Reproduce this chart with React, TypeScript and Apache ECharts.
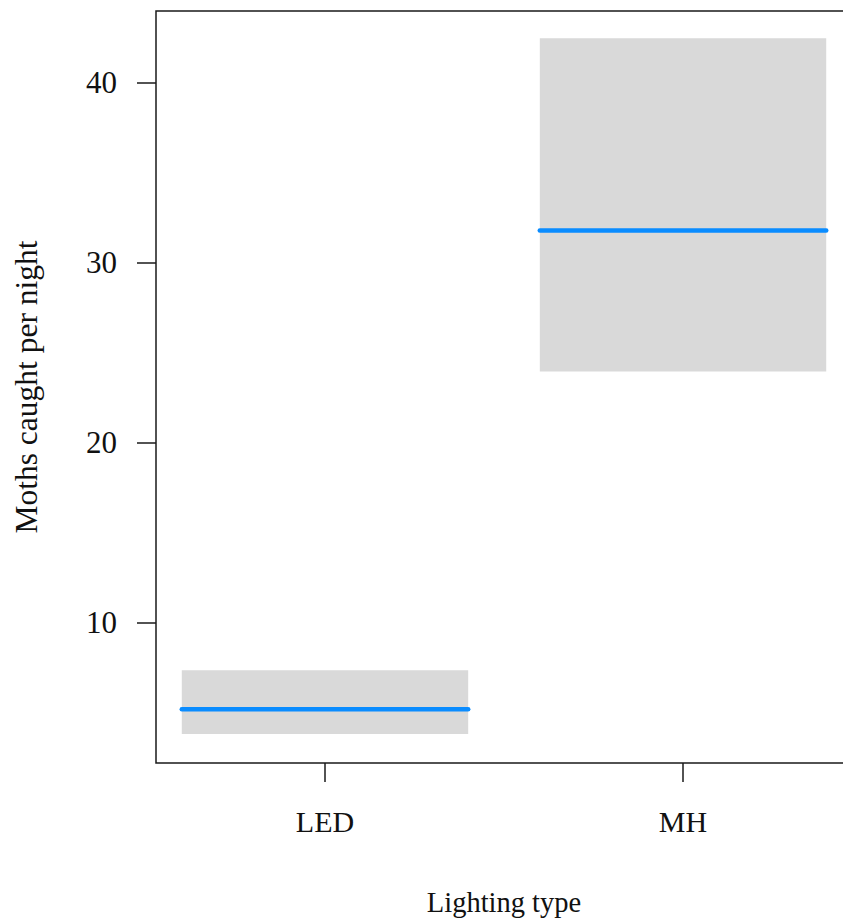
import React, { useEffect, useRef } from "react";
import * as echarts from "echarts";

const categories = ["LED", "MH"];
const fitValues = [5.2, 31.8];
const lowerValues = [3.82, 23.96];
const upperValues = [7.37, 42.48];
const yTicks = [10, 20, 30, 40];

const HALF = 0.4;
const FONT = "'Liberation Serif', 'Times New Roman', serif";

export default function App() {
  const ref = useRef<HTMLDivElement>(null);
  useEffect(() => {
    if (!ref.current) return;
    const chart = echarts.init(ref.current, undefined, { renderer: "svg" });
    const data = categories.map((c, i) => [i + 1, lowerValues[i], upperValues[i], fitValues[i]]);
    chart.setOption({
      animation: false,
      backgroundColor: "#ffffff",
      grid: {
        left: 156,
        top: 11,
        width: 696,
        height: 752,
        show: true,
        borderColor: "#1a1a1a",
        borderWidth: 1.5,
        containLabel: false,
        outerBoundsMode: "none",
      },
      xAxis: {
        type: "value",
        min: 0.528,
        max: 2.472,
        name: "Lighting type",
        nameLocation: "middle",
        nameGap: 125,
        nameTextStyle: { fontFamily: FONT, fontSize: 28.5, color: "#111" },
        axisLine: { show: false },
        splitLine: { show: false },
        axisTick: {
          show: true,
          length: 19,
          customValues: categories.map((_, i) => i + 1),
          lineStyle: { color: "#1a1a1a", width: 1.5 },
        },
        axisLabel: {
          customValues: categories.map((_, i) => i + 1),
          formatter: (v: number) => categories[Math.round(v) - 1] ?? "",
          margin: 43,
          fontFamily: FONT,
          fontSize: 30,
          color: "#111",
        },
      },
      yAxis: {
        type: "value",
        min: 2.21,
        max: 44,
        name: "Moths caught per night",
        nameLocation: "middle",
        nameGap: 114,
        nameTextStyle: { fontFamily: FONT, fontSize: 31.5, color: "#111" },
        axisLine: { show: false },
        splitLine: { show: false },
        axisTick: {
          show: true,
          length: 19,
          customValues: yTicks,
          lineStyle: { color: "#1a1a1a", width: 1.5 },
        },
        axisLabel: {
          customValues: yTicks,
          margin: 39,
          fontFamily: FONT,
          fontSize: 31,
          color: "#111",
        },
      },
      series: [
        {
          type: "custom",
          data,
          encode: { x: 0, y: [1, 2, 3] },
          renderItem: (params: any, api: any) => {
            const x = api.value(0);
            const lo = api.value(1);
            const hi = api.value(2);
            const fit = api.value(3);
            const tl = api.coord([x - HALF, hi]);
            const br = api.coord([x + HALF, lo]);
            const l1 = api.coord([x - HALF, fit]);
            const l2 = api.coord([x + HALF, fit]);
            return {
              type: "group",
              children: [
                {
                  type: "rect",
                  shape: { x: tl[0], y: tl[1], width: br[0] - tl[0], height: br[1] - tl[1] },
                  style: { fill: "#d9d9d9", stroke: null },
                },
                {
                  type: "line",
                  shape: { x1: l1[0], y1: l1[1], x2: l2[0], y2: l2[1] },
                  style: { stroke: "#0a8cff", lineWidth: 4.5, lineCap: "round" },
                },
              ],
            };
          },
        },
      ],
    });
    return () => chart.dispose();
  }, []);
  return (
    <div
      ref={ref}
      style={{ position: "absolute", left: 0, top: 0, width: 843, height: 920 }}
    />
  );
}
